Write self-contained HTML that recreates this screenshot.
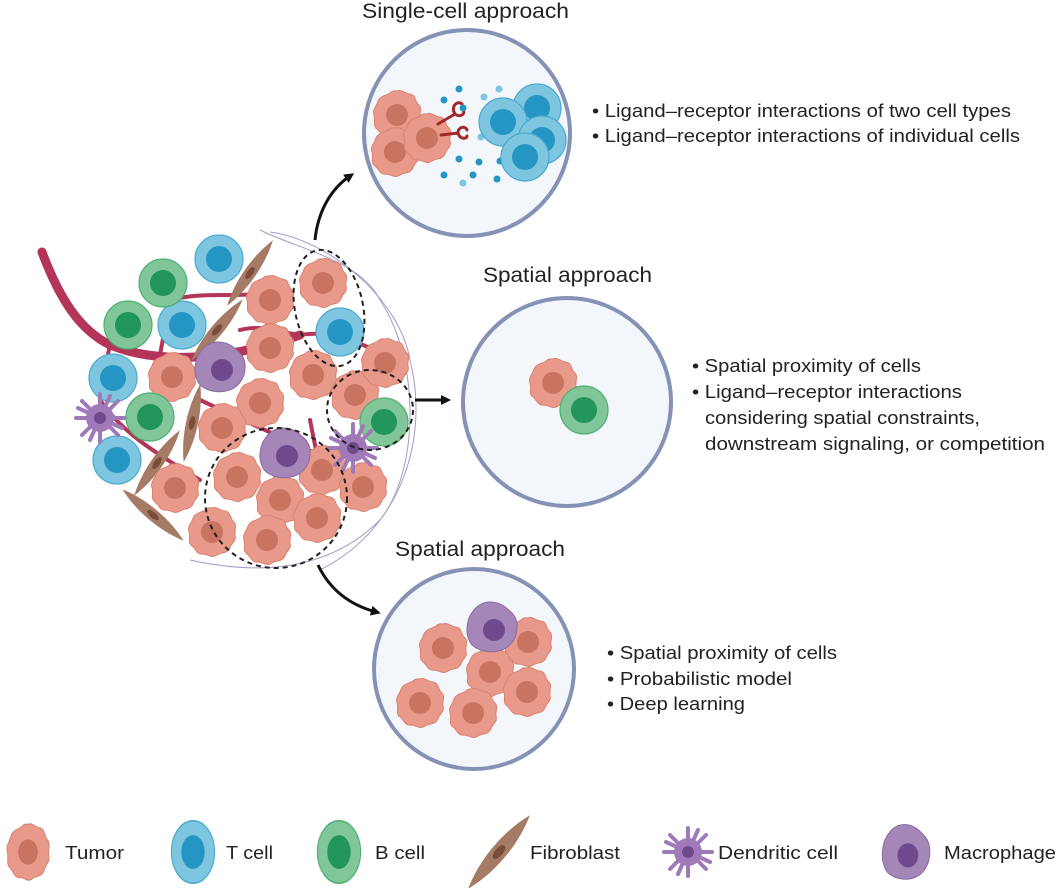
<!DOCTYPE html>
<html><head><meta charset="utf-8"><style>
html,body{margin:0;padding:0;background:#fff;}
svg{display:block;font-family:"Liberation Sans",sans-serif;}
text{fill:#222;}
</style></head><body>
<svg width="1057" height="888" viewBox="0 0 1057 888" xmlns="http://www.w3.org/2000/svg">
<defs>
<g id="tum">
<path d="M0,-24 C5,-26 8,-21 13,-21 C19,-20 18,-14 21,-11 C26,-7 22,-2 23,3 C25,9 19,11 18,16 C15,22 10,20 5,23 C0,27 -4,22 -9,22 C-15,23 -16,17 -20,14 C-25,10 -21,5 -23,0 C-25,-6 -20,-9 -19,-14 C-16,-20 -11,-19 -7,-22 C-4,-25 -2,-24 0,-24Z" fill="#e9998a" stroke="#d9826f" stroke-width="1"/>
<circle r="11" fill="#c97461"/>
</g>
<g id="tc"><circle r="24" fill="#7ec6e0" stroke="#4aa9cf" stroke-width="1.2"/><circle r="13" fill="#2596c4"/></g>
<g id="bc"><circle r="24" fill="#80c698" stroke="#4fae72" stroke-width="1.2"/><circle r="13" fill="#22965a"/></g>
<g id="mac">
<path d="M-2,-25 C8,-25 14,-20 20,-14 C26,-8 26,0 24,8 C21,16 16,22 6,24 C-3,26 -13,24 -20,18 C-26,10 -26,0 -23,-9 C-19,-18 -12,-25 -2,-25Z" fill="#a487b8" stroke="#8a6aa0" stroke-width="1"/>
<circle cx="2" cy="3" r="11" fill="#6e4a8c"/>
</g>
<g id="dc" stroke="#a07ab8" stroke-width="4" stroke-linecap="round" fill="none">
<path d="M0,-12 L0,-24 M9,-8 L18,-17 M12,0 L24,0 M9,8 L18,17 M0,12 L0,24 M-9,8 L-18,17 M-12,0 L-24,0 M-9,-8 L-18,-17 M5,-11 L10,-22 M-5,11 L-10,22 M11,5 L22,10 M-11,-5 L-22,-10"/>
<circle r="14" fill="#a07ab8" stroke="none"/><circle r="6" fill="#6e4a8c" stroke="none"/>
</g>
<g id="fib"><path d="M-40,0 C-15,-8 15,-8 40,0 C15,8 -15,8 -40,0Z" fill="#a67b66"/><ellipse rx="7" ry="3" fill="#7a4c3a"/></g>
<marker id="ah" markerWidth="10" markerHeight="10" refX="5" refY="5" orient="auto" markerUnits="userSpaceOnUse"><path d="M0,0 L10,5 L0,10 Z" fill="#111"/></marker>
</defs>

<g fill="none" stroke="#b3355a" stroke-linecap="round">
<path d="M42,252 C60,300 80,330 110,345 C160,365 230,360 300,335" stroke-width="9"/>
<path d="M110,345 L100,390 M160,355 L170,300 M170,300 C210,290 240,300 280,290 M300,335 C330,330 360,340 390,360 M240,330 C260,325 270,330 300,335 M200,400 L330,460 M310,420 L320,470 M100,400 C120,430 150,450 200,480" stroke-width="4"/>
</g>
<path d="M260,230 C300,250 360,260 380,300 C420,360 420,470 380,520 C340,560 280,580 190,560" fill="none" stroke="#a59ac8" stroke-width="1"/>
<path d="M270,232 C330,240 400,300 410,360 C430,440 400,530 320,570" fill="none" stroke="#a59ac8" stroke-width="1"/>

<use href="#fib" transform="translate(250,273) rotate(-55)"/>
<use href="#fib" transform="translate(217,330) rotate(-50)"/>
<use href="#fib" transform="translate(192,423) rotate(-78)"/>
<use href="#fib" transform="translate(157,463) rotate(-55)"/>
<use href="#fib" transform="translate(153,515) rotate(40)"/>

<use href="#tum" x="323" y="283"/><use href="#tum" x="270" y="300"/><use href="#tum" x="270" y="348"/>
<use href="#tum" x="313" y="375"/><use href="#tum" x="172" y="377"/><use href="#tum" x="260" y="403"/>
<use href="#tum" x="222" y="428"/><use href="#tum" x="355" y="395"/><use href="#tum" x="385" y="363"/>
<use href="#tum" x="237" y="477"/><use href="#tum" x="280" y="500"/><use href="#tum" x="322" y="470"/>
<use href="#tum" x="363" y="487"/><use href="#tum" x="175" y="488"/><use href="#tum" x="317" y="518"/>
<use href="#tum" x="267" y="540"/><use href="#tum" x="212" y="532"/>
<use href="#tc" x="219" y="259"/><use href="#tc" x="182" y="325"/><use href="#tc" x="113" y="378"/>
<use href="#tc" x="117" y="460"/><use href="#tc" x="340" y="332"/>
<use href="#bc" x="163" y="283"/><use href="#bc" x="128" y="325"/><use href="#bc" x="150" y="417"/><use href="#bc" x="384" y="422"/>
<use href="#mac" x="220" y="367"/><use href="#mac" x="285" y="453"/>
<use href="#dc" x="100" y="418"/><use href="#dc" x="353" y="448"/>

<g fill="none" stroke="#222" stroke-width="2" stroke-dasharray="5,4">
<ellipse cx="329" cy="308" rx="34" ry="59" transform="rotate(-12 329 308)"/>
<ellipse cx="370" cy="410" rx="43" ry="40"/>
<ellipse cx="276" cy="498" rx="71" ry="70"/>
</g>

<g fill="none" stroke="#111" stroke-width="3">
<path d="M315,240 C318,210 332,188 350,176" marker-end="url(#ah)"/>
<path d="M415,400 L446,400" marker-end="url(#ah)"/>
<path d="M318,565 C330,590 350,605 376,612" marker-end="url(#ah)"/>
</g>

<g fill="#f3f7fc" stroke="#8591b5" stroke-width="4">
<circle cx="467" cy="133" r="103"/>
<circle cx="567" cy="402" r="104"/>
<circle cx="474" cy="669" r="100"/>
</g>

<use href="#tum" x="397" y="115"/><use href="#tum" x="395" y="152"/><use href="#tum" x="427" y="138"/>
<g stroke="#a3282c" stroke-width="3" fill="none" stroke-linecap="round">
<path d="M438,124 L455,114 M455,114 C450,106 458,100 462,104 M455,114 C460,118 466,114 463,110"/>
<path d="M441,135 L458,133 M458,133 C458,126 466,126 467,130 M458,133 C460,140 467,139 467,136"/>
</g>
<g fill="#2596c4"><circle cx="459" cy="89" r="3.5"/><circle cx="444" cy="100" r="3.5"/><circle cx="463" cy="108" r="3.5"/><circle cx="459" cy="159" r="3.5"/><circle cx="479" cy="162" r="3.5"/><circle cx="444" cy="175" r="3.5"/><circle cx="473" cy="175" r="3.5"/><circle cx="497" cy="179" r="3.5"/><circle cx="500" cy="161" r="3.5"/></g>
<g fill="#7ec6e0"><circle cx="484" cy="97" r="3.5"/><circle cx="499" cy="89" r="3.5"/><circle cx="463" cy="183" r="3.5"/><circle cx="481" cy="137" r="3.5"/></g>
<use href="#tc" x="537" y="108"/><use href="#tc" x="503" y="122"/><use href="#tc" x="542" y="140"/><use href="#tc" x="525" y="157"/>

<use href="#tum" x="553" y="383"/><use href="#bc" x="584" y="410"/>

<use href="#tum" x="443" y="648"/><use href="#tum" x="528" y="642"/><use href="#tum" x="490" y="672"/>
<use href="#tum" x="527" y="692"/><use href="#tum" x="420" y="703"/><use href="#tum" x="473" y="713"/>
<use href="#mac" x="492" y="627"/>

<g font-size="21">
<text x="362" y="18" textLength="207" lengthAdjust="spacingAndGlyphs">Single-cell approach</text>
<text x="483" y="282" textLength="169" lengthAdjust="spacingAndGlyphs">Spatial approach</text>
<text x="395" y="556" textLength="170" lengthAdjust="spacingAndGlyphs">Spatial approach</text>
</g>
<g font-size="18">
<text x="592" y="117" textLength="419" lengthAdjust="spacingAndGlyphs">• Ligand–receptor interactions of two cell types</text>
<text x="592" y="142" textLength="428" lengthAdjust="spacingAndGlyphs">• Ligand–receptor interactions of individual cells</text>
<text x="692" y="372" textLength="229" lengthAdjust="spacingAndGlyphs">• Spatial proximity of cells</text>
<text x="692" y="398" textLength="270" lengthAdjust="spacingAndGlyphs">• Ligand–receptor interactions</text>
<text x="705" y="424" textLength="275" lengthAdjust="spacingAndGlyphs">considering spatial constraints,</text>
<text x="705" y="450" textLength="340" lengthAdjust="spacingAndGlyphs">downstream signaling, or competition</text>
<text x="607" y="659" textLength="230" lengthAdjust="spacingAndGlyphs">• Spatial proximity of cells</text>
<text x="607" y="685" textLength="185" lengthAdjust="spacingAndGlyphs">• Probabilistic model</text>
<text x="607" y="710" textLength="138" lengthAdjust="spacingAndGlyphs">• Deep learning</text>
</g>

<g transform="translate(28,852) scale(0.9,1.15)"><use href="#tum"/></g>
<g transform="translate(193,852) scale(0.9,1.3)"><use href="#tc"/></g>
<g transform="translate(339,852) scale(0.9,1.3)"><use href="#bc"/></g>
<use href="#fib" transform="translate(499,852) rotate(-50) scale(1.2,1.3)"/>
<use href="#dc" transform="translate(688,852)"/>
<g transform="translate(906,852) scale(0.95,1.1)"><use href="#mac"/></g>
<g font-size="18">
<text x="65" y="859" textLength="59" lengthAdjust="spacingAndGlyphs">Tumor</text>
<text x="226" y="859" textLength="47" lengthAdjust="spacingAndGlyphs">T cell</text>
<text x="375" y="859" textLength="50" lengthAdjust="spacingAndGlyphs">B cell</text>
<text x="530" y="859" textLength="90" lengthAdjust="spacingAndGlyphs">Fibroblast</text>
<text x="718" y="859" textLength="120" lengthAdjust="spacingAndGlyphs">Dendritic cell</text>
<text x="944" y="859" textLength="112" lengthAdjust="spacingAndGlyphs">Macrophage</text>
</g>
</svg>
</body></html>
